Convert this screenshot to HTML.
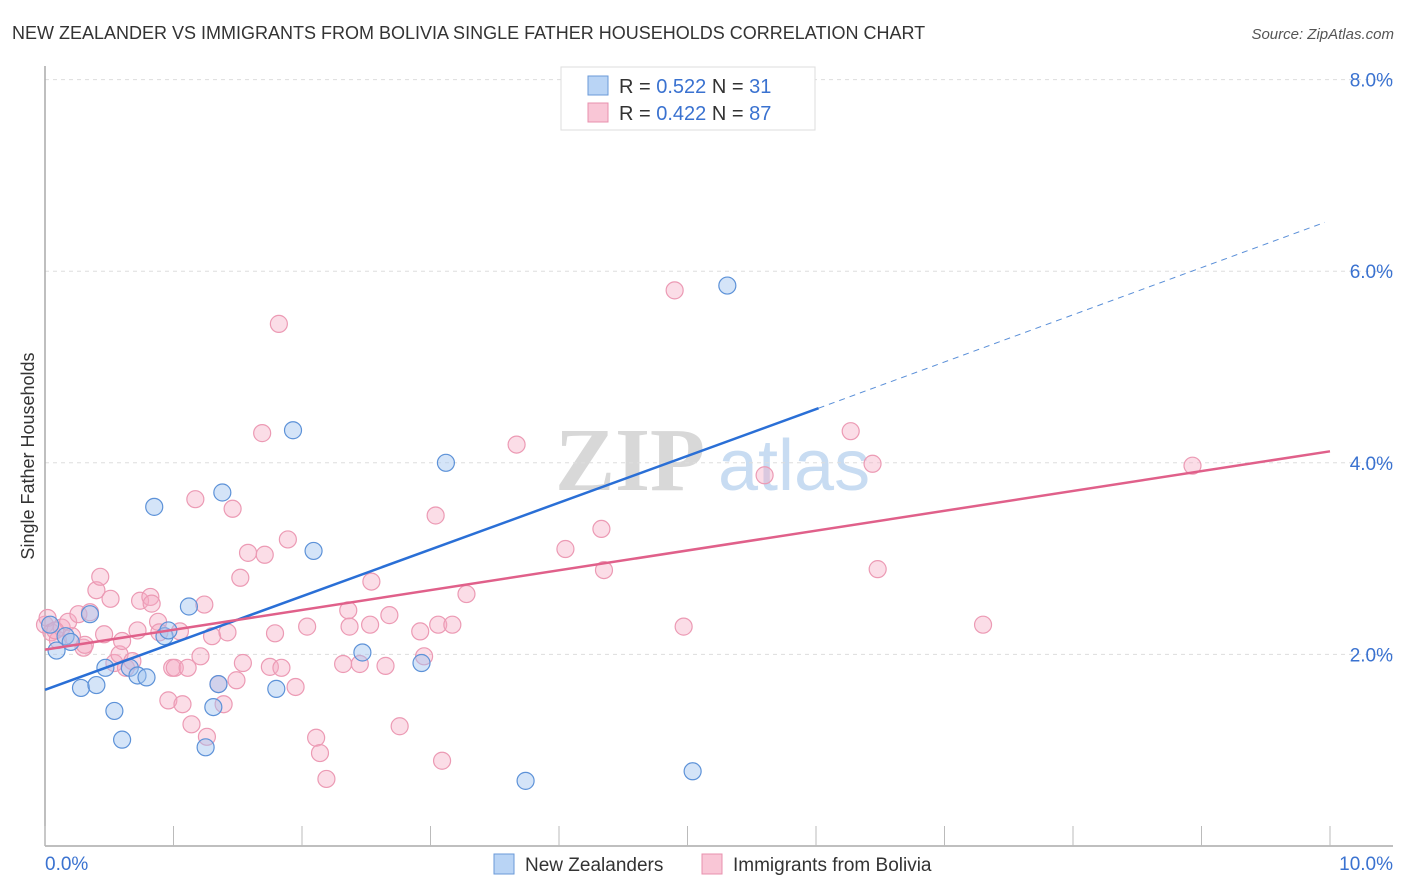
<!DOCTYPE html>
<html><head><meta charset="utf-8"><style>
body{margin:0;background:#fff;font-family:"Liberation Sans",sans-serif}
svg{display:block}
</style></head><body>
<svg id="c" width="1406" height="892" xmlns="http://www.w3.org/2000/svg">
<text x="12" y="39" font-size="18" fill="#333">NEW ZEALANDER VS IMMIGRANTS FROM BOLIVIA SINGLE FATHER HOUSEHOLDS CORRELATION CHART</text>
<text x="1394" y="39" font-size="15" fill="#555" font-style="italic" text-anchor="end">Source: ZipAtlas.com</text>
<text transform="translate(34,456) rotate(-90)" font-size="18" fill="#333" text-anchor="middle">Single Father Households</text>
<g><text x="555" y="490" font-size="90" fill="#d8d8d8" font-family="Liberation Serif,serif" font-weight="bold">ZIP</text><text x="718" y="490" font-size="72" fill="#c8dcf2">atlas</text></g>
<g id="grid"></g><g id="axes"></g><g id="pts"></g><g id="lines"></g>
<g>
<rect x="561" y="67" width="254" height="63" fill="#fff" stroke="#ddd"/>
<rect x="588" y="76" width="20" height="19" fill="#b9d4f5" stroke="#6a9ad8"/>
<text x="619" y="93" font-size="20" fill="#333">R = <tspan fill="#3a72d0">0.522</tspan>   N = <tspan fill="#3a72d0">31</tspan></text>
<rect x="588" y="103" width="20" height="19" fill="#f9c6d6" stroke="#e890ae"/>
<text x="619" y="120" font-size="20" fill="#333">R = <tspan fill="#3a72d0">0.422</tspan>   N = <tspan fill="#3a72d0">87</tspan></text>
</g>
<g>
<rect x="494" y="854" width="20" height="20" fill="#b9d4f5" stroke="#6a9ad8"/>
<text x="525" y="871" font-size="19" fill="#333">New Zealanders</text>
<rect x="702" y="854" width="20" height="20" fill="#f9c6d6" stroke="#e890ae"/>
<text x="733" y="871" font-size="19" fill="#333">Immigrants from Bolivia</text>
</g>
</svg>
<script>
const xTicks=[0,1,2,3,4,5,6,7,8,9,10];
const yTicks=[2,4,6,8];
const xLabels=["0.0%","10.0%"];
const blueX=[0.04,0.09,0.16,0.2,0.35,0.28,0.4,0.47,0.54,0.6,0.66,0.72,0.79,0.85,0.93,0.96,1.12,1.25,1.31,1.35,1.38,1.8,1.93,2.09,2.47,2.93,3.12,3.74,5.04,5.31,5.82];
const blueY=[2.31,2.04,2.19,2.13,2.42,1.65,1.68,1.86,1.41,1.11,1.86,1.78,1.76,3.54,2.19,2.25,2.5,1.03,1.45,1.69,3.69,1.64,4.34,3.08,2.02,1.91,4.0,0.68,0.78,5.85,7.77];
const pinkX=[0,0.02,0.05,0.1,0.13,0.18,0.21,0.26,0.3,0.35,0.4,0.43,0.46,0.51,0.54,0.58,0.6,0.63,0.68,0.72,0.74,0.82,0.83,0.88,0.89,0.96,0.99,1.01,1.05,1.07,1.11,1.14,1.17,1.21,1.24,1.26,1.3,1.35,1.39,1.42,1.46,1.49,1.52,1.54,1.58,1.69,1.71,1.75,1.79,1.82,1.84,1.89,1.95,2.04,2.11,2.14,2.19,2.32,2.36,2.37,2.45,2.53,2.54,2.65,2.68,2.76,2.92,2.95,3.04,3.06,3.09,3.17,3.28,3.67,4.05,4.33,4.35,4.9,4.97,5.6,6.27,6.44,6.48,7.3,8.93,0.08,0.31];
const pinkY=[2.31,2.38,2.23,2.15,2.28,2.34,2.19,2.42,2.07,2.44,2.67,2.81,2.21,2.58,1.91,2.0,2.14,1.86,1.93,2.25,2.56,2.6,2.53,2.34,2.23,1.52,1.86,1.86,2.24,1.48,1.86,1.27,3.62,1.98,2.52,1.14,2.19,1.69,1.48,2.23,3.52,1.73,2.8,1.91,3.06,4.31,3.04,1.87,2.22,5.45,1.86,3.2,1.66,2.29,1.13,0.97,0.7,1.9,2.46,2.29,1.9,2.31,2.76,1.88,2.41,1.25,2.24,1.98,3.45,2.31,0.89,2.31,2.63,4.19,3.1,3.31,2.88,5.8,2.29,3.87,4.33,3.99,2.89,2.31,3.97,2.25,2.1];
const blueFit=[1.63,4.57,6.51,6.02,9.96];
const pinkFit=[2.05,4.12];
const sx=v=>45+v*128.5, sy=v=>846-v*95.8;
const NS="http://www.w3.org/2000/svg";
function mk(t,a,p){const e=document.createElementNS(NS,t);for(const k in a)e.setAttribute(k,a[k]);p.appendChild(e);return e;}
const grid=document.getElementById('grid'),axes=document.getElementById('axes'),pts=document.getElementById('pts'),lines=document.getElementById('lines');
yTicks.forEach(v=>{const l=mk('line',{x1:45,x2:1393,y1:sy(v),y2:sy(v),stroke:'#ddd','stroke-dasharray':'4,4'},grid);


const t=mk('text',{x:1393,y:sy(v)+7,'font-size':19,fill:'#3a72d0','text-anchor':'end'},axes);t.textContent=v.toFixed(1)+'%';

});
mk('line',{x1:45,x2:45,y1:66,y2:846,stroke:'#aaa','stroke-width':1.5},axes);
mk('line',{x1:45,x2:1393,y1:846,y2:846,stroke:'#aaa','stroke-width':1.5},axes);
xTicks.forEach(v=>{const l=mk('line',{x1:sx(v),x2:sx(v),y1:826,y2:846,stroke:'#bbb'},axes);

});
[[0,45,'start'],[1,1393,'end']].forEach(([i,x,a])=>{const t=mk('text',{x:x,y:870,'font-size':19,fill:'#3a72d0','text-anchor':a},axes);t.textContent=xLabels[i];

});
pinkX.forEach((x,i)=>{const c=mk('circle',{cx:sx(x),cy:sy(pinkY[i]),r:8.5,fill:'rgba(246,170,195,0.4)',stroke:'#ec9ab4','stroke-width':1.2},pts);

});
blueX.forEach((x,i)=>{const c=mk('circle',{cx:sx(x),cy:sy(blueY[i]),r:8.5,fill:'rgba(160,195,240,0.45)',stroke:'#5d92d8','stroke-width':1.2},pts);

});
let l=mk('line',{x1:sx(0),y1:sy(blueFit[0]),x2:sx(blueFit[3]),y2:sy(blueFit[1]),stroke:'#2a6fd6','stroke-width':2.5},lines);


l=mk('line',{x1:sx(blueFit[3]),y1:sy(blueFit[1]),x2:sx(blueFit[4]),y2:sy(blueFit[2]),stroke:'#5a8fd8','stroke-width':1,'stroke-dasharray':'6,5'},lines);


l=mk('line',{x1:sx(0),y1:sy(pinkFit[0]),x2:sx(10),y2:sy(pinkFit[1]),stroke:'#e0608a','stroke-width':2.5},lines);


</script>
</body></html>
